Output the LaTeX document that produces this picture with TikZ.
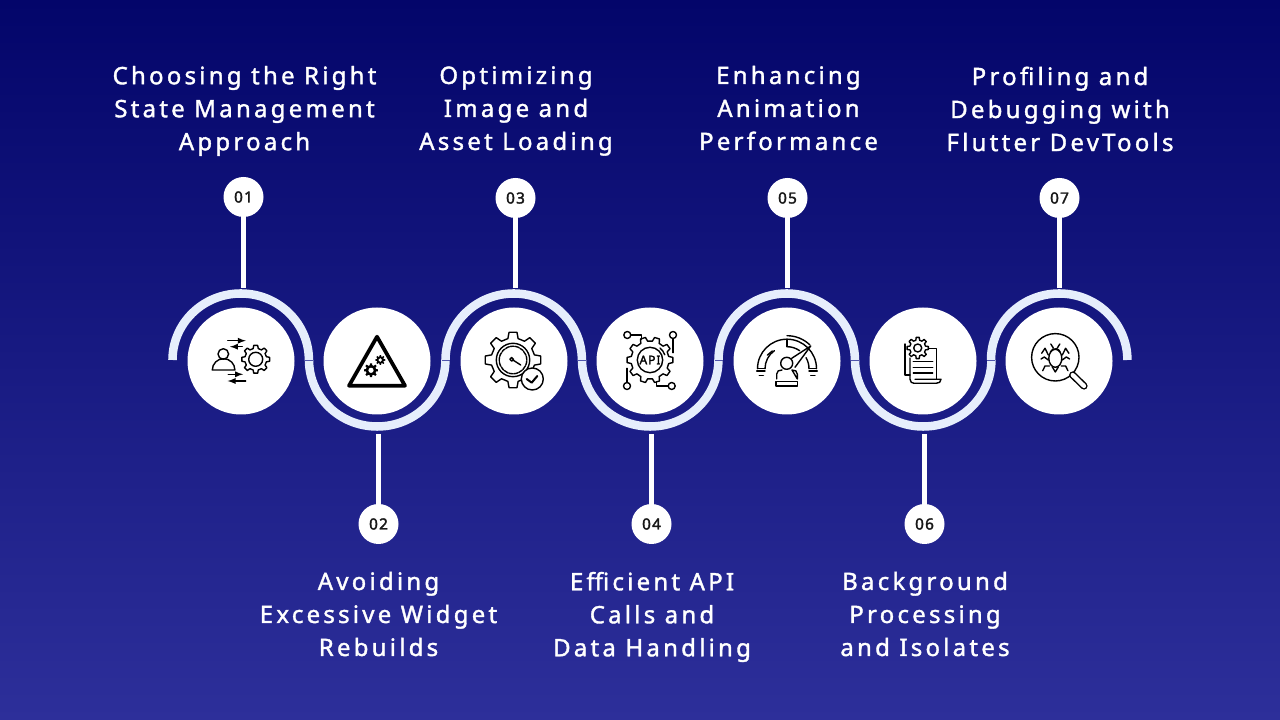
\documentclass[tikz,border=0pt]{standalone}
\usepackage{fontspec}
\setmainfont{Noto Sans}[LetterSpace=13.5,FakeBold=1.5]
\newfontfamily\badgefont{Noto Sans}[LetterSpace=8,FakeBold=2.2]
\usepackage{tikz}
\usetikzlibrary{calc}
\definecolor{bgtop}{HTML}{03056A}
\definecolor{bgbottom}{HTML}{2D2F9A}
\definecolor{bandblue}{HTML}{E6EEFC}
\definecolor{seamblue}{HTML}{4F54AB}
\tikzset{
	band/.style={line width=6.4pt,bandblue},
	seam/.style={line width=0.8pt,seamblue},
	stem/.style={line width=3.5pt,white},
	hub/.style={circle,fill=white,minimum size=80.25pt,inner sep=0pt},
	badge/.style={circle,fill=white,minimum size=30pt,inner sep=0pt,text=black!90,font=\badgefont\fontsize{11.5}{12}\selectfont},
	title/.style={align=center,text=white,font=\fontsize{18}{24.75}\selectfont},
	icon/.style={line width=1.05pt,black,line join=round,line cap=round},
}
\newcommand{\gearicon}[6][]{%
	\pgfmathsetmacro\gstep{360/#6}
	\pgfmathsetmacro\gb{0.3*\gstep}
	\pgfmathsetmacro\gt{0.18*\gstep}
	\begin{scope}[shift={(#2,#3)}]
		\path[#1] (-\gb:#4) \foreach \i in {1,...,#6}{ -- ({(\i-1)*\gstep-\gt}:#5) -- ({(\i-1)*\gstep+\gt}:#5) -- ({(\i-1)*\gstep+\gb}:#4) -- ({\i*\gstep-\gb}:#4)} -- cycle;
	\end{scope}
}
\begin{document}
\begin{tikzpicture}[x=0.75pt,y=0.75pt]
	\useasboundingbox (0,0) rectangle (1280,720);
	\shade[top color=bgtop,bottom color=bgbottom] (0,0) rectangle (1280,720);

	\draw[band] (172.5,360) arc[start angle=180,end angle=0,x radius=68.2,y radius=66.5];
	\draw[band] (309,360) arc[start angle=180,end angle=360,x radius=68.2,y radius=66.5];
	\draw[band] (445.5,360) arc[start angle=180,end angle=0,x radius=68.2,y radius=66.5];
	\draw[band] (582,360) arc[start angle=180,end angle=360,x radius=68.2,y radius=66.5];
	\draw[band] (718.5,360) arc[start angle=180,end angle=0,x radius=68.2,y radius=66.5];
	\draw[band] (855,360) arc[start angle=180,end angle=360,x radius=68.2,y radius=66.5];
	\draw[band] (991,360) arc[start angle=180,end angle=0,x radius=68.2,y radius=66.5];
	\foreach \x in {309,445.5,582,718.5,855,991}
		\draw[seam] (\x-4,359.5) -- (\x+4,359.5);

	\node[hub] (h1) at (241,359) {};
	\node[hub] (h2) at (377,359) {};
	\node[hub] (h3) at (514,359) {};
	\node[hub] (h4) at (650,359) {};
	\node[hub] (h5) at (787,359) {};
	\node[hub] (h6) at (923,359) {};
	\node[hub] (h7) at (1059,359) {};

	\node[badge] (b1) at (243.5,523) {01};
	\node[badge] (b2) at (378.5,196) {02};
	\node[badge] (b3) at (515.5,522) {03};
	\node[badge] (b4) at (651.5,196) {04};
	\node[badge] (b5) at (787.5,522) {05};
	\node[badge] (b6) at (924.5,196) {06};
	\node[badge] (b7) at (1059.5,522) {07};

	\coordinate (s1) at (243.5,432);
	\coordinate (s2) at (378.5,286);
	\coordinate (s3) at (515.5,432);
	\coordinate (s4) at (651.5,286);
	\coordinate (s5) at (787.5,432);
	\coordinate (s6) at (924.5,286);
	\coordinate (s7) at (1059.5,432);
	\draw[stem] (b1) -- (s1);
	\draw[stem] (b2) -- (s2);
	\draw[stem] (b3) -- (s3);
	\draw[stem] (b4) -- (s4);
	\draw[stem] (b5) -- (s5);
	\draw[stem] (b6) -- (s6);
	\draw[stem] (b7) -- (s7);

	\node[title] (t1) at (244.5,609) {Choosing the Right\\State Management\\Approach};
	\node[title] (t2) at (378.5,106) {Avoiding\\Excessive Widget\\Rebuilds};
	\node[title] (t3) at (516,609) {Optimizing\\Image and\\Asset Loading};
	\node[title] (t4) at (652,103) {Efficient API\\Calls and\\Data Handling};
	\node[title] (t5) at (788.5,612) {Enhancing\\Animation\\Performance};
	\node[title] (t6) at (925,106) {Background\\Processing\\and Isolates};
	\node[title] (t7) at (1060,611) {Profiling and\\Debugging with\\Flutter DevTools};

	% people and settings
	\begin{scope}[shift={(h1.center)}]
		\draw[icon] (-17.7,7) circle (5.3);
		\draw[icon] (-28.7,-9) arc[start angle=180,end angle=0,radius=11.3] -- cycle;
		\gearicon[icon,draw]{14.7}{1.7}{11}{14}{8}
		\draw[icon] (14.7,1.7) circle (7);
		\draw[icon,-latex] (-13.3,20.3) -- (4.7,20.3);
		\draw[icon,-latex] (1.3,14.3) -- (-11,14.3);
		\draw[icon,-latex] (-12.7,-13.3) -- (2,-13.3);
		\draw[icon,-latex] (4.7,-20) -- (-13.3,-20);
	\end{scope}

	% warning triangle
	\begin{scope}[shift={(h2.center)}]
		\draw[icon,line width=2.8pt] (0,24.3) -- (28,-24.7) -- (-28,-24.7) -- cycle;
		\gearicon[fill=black]{-6}{-9.3}{5.2}{7}{8}
		\fill[white] (-6,-9.3) circle (2.6);
		\gearicon[fill=black]{3.3}{1}{3.6}{5}{8}
		\fill[white] (3.3,1) circle (1.9);
	\end{scope}

	% gauge gear with tick
	\begin{scope}[shift={(h3.center)}]
		\gearicon[icon,draw]{-1}{1}{22}{28}{8}
		\draw[icon] (-1,1) circle (16.7);
		\draw[icon,dash pattern=on 3pt off 0.8pt] (-1,1) circle (13.8);
		\draw[icon] (-2.3,1.7) circle (1.8);
		\draw[icon] (-0.8,0.8) -- (6.7,-4);
		\draw[icon,fill=white] (18.3,-18) circle (11);
		\draw[icon,line width=1.5pt] (12.7,-18) -- (17.7,-21.7) -- (23.3,-15);
	\end{scope}

	% api gear with circuit
	\begin{scope}[shift={(h4.center)}]
		\gearicon[icon,draw]{0}{1}{19}{23}{10}
		\draw[icon] (0,1) circle (12.7);
		\node[font=\badgefont\fontsize{9}{10}\selectfont] (api) at (0,1) {API};
		\draw[icon] (-22.7,26) circle (3.5);
		\draw[icon] (-19,26) -- (-8.3,26) -- (-8.3,21.7);
		\draw[icon] (23,26) circle (3.5);
		\draw[icon] (23,22.5) -- (23,8.3);
		\draw[icon] (-23,-25) circle (3.5);
		\draw[icon] (-23,-21.5) -- (-23,-7.3);
		\draw[icon] (21.7,-25) circle (3.5);
		\draw[icon] (18.2,-25) -- (6.7,-25) -- (6.7,-20.7);
		\draw[icon] (10,13) arc[start angle=50,end angle=20,radius=16];
	\end{scope}

	% speed meter with person
	\begin{scope}[shift={(h5.center)}]
		\draw[icon] (-29.5,-7.7) arc[start angle=180,end angle=0,radius=29.5];
		\draw[icon] (-22,-7.7) arc[start angle=180,end angle=125,radius=22] (0,14.3) arc[start angle=90,end angle=55,radius=22];
		\draw[icon] (22,-7.7) arc[start angle=0,end angle=30,radius=22];
		\draw[icon] (0,14.3) -- (0,21.8);
		\draw[icon] (-19.7,5.8) -- (-14.7,10);
		\draw[icon] (-29.5,-7.7) -- (-22,-7.7);
		\draw[icon] (29.5,-7.7) -- (22,-7.7);
		\draw[icon] (0,25.3) arc[start angle=90,end angle=46,radius=33];
		\draw[icon] (4.7,2.7) -- (23.7,15) -- (8,-6.3);
		\draw[icon] (-0.3,-2.3) circle (6);
		\draw[icon] (-10.3,-18) -- (-10.3,-13) .. controls (-10.3,-10) and (-8,-9) .. (-5,-9) (5,-9) .. controls (8,-9) and (10.3,-10) .. (10.3,-13) -- (10.3,-18) -- cycle;
		\draw[icon] (-11,-20.7) rectangle (10.7,-25);
		\draw[icon] (-30.3,-10) -- (-22,-10);
		\draw[icon] (-27.7,-14.7) -- (-23.7,-14.7);
		\draw[icon] (22,-10) -- (30.3,-10);
		\draw[icon] (23.7,-14.7) -- (28,-14.7);
	\end{scope}

	% document with gear
	\begin{scope}[shift={(h6.center)}]
		\draw[icon] (-18,17) -- (-18,-14) -- (-13,-14);
		\draw[icon] (5,12.7) -- (13.7,12.7) -- (13.7,-18.3);
		\draw[icon] (-13,3) -- (-13,-18.3) .. controls (-13,-21) and (-11,-22.3) .. (-9,-22.3) -- (13,-22.3) .. controls (16,-22.3) and (18,-21) .. (18,-18.3) -- (-8,-18.3);
		\draw[icon] (-9.7,-0.7) -- (9.7,-0.7);
		\draw[icon] (-9.7,-6.3) -- (9.7,-6.3);
		\draw[icon] (-9.7,-12) -- (9.7,-12);
		\gearicon[icon,draw,fill=white]{-5.3}{13}{8}{10.7}{8}
		\draw[icon] (-5.3,13) circle (4);
	\end{scope}

	% bug under a lens
	\begin{scope}[shift={(h7.center)}]
		\draw[icon] (-3.7,3.7) circle (23.7);
		\draw[line width=5.4pt,black,line cap=round] (13.7,-14) -- (25,-25);
		\draw[line width=3.2pt,white,line cap=round] (13.7,-14) -- (25,-25);
		\draw[icon] (-3.7,2.7) ellipse (6.5 and 9);
		\draw[icon] (-8.7,9) arc[start angle=160,end angle=20,radius=5.2];
		\draw[icon] (-6.7,-6) -- (-3.7,-11) -- (-0.7,-6);
		\foreach \s in {1,-1}{
			\begin{scope}[shift={(-3.7,0)},xscale=\s]
				\draw[icon] (-7,6) -- (-10.3,12.7) -- (-13.6,7.7);
				\draw[icon] (-7,1) -- (-11,4) -- (-14.3,2);
				\draw[icon] (-6,-5) -- (-10.3,-5) -- (-12.6,-9.7);
				\draw[icon] (-2,13) -- (-4.5,17);
			\end{scope}
		}
	\end{scope}
\end{tikzpicture}
\end{document}
